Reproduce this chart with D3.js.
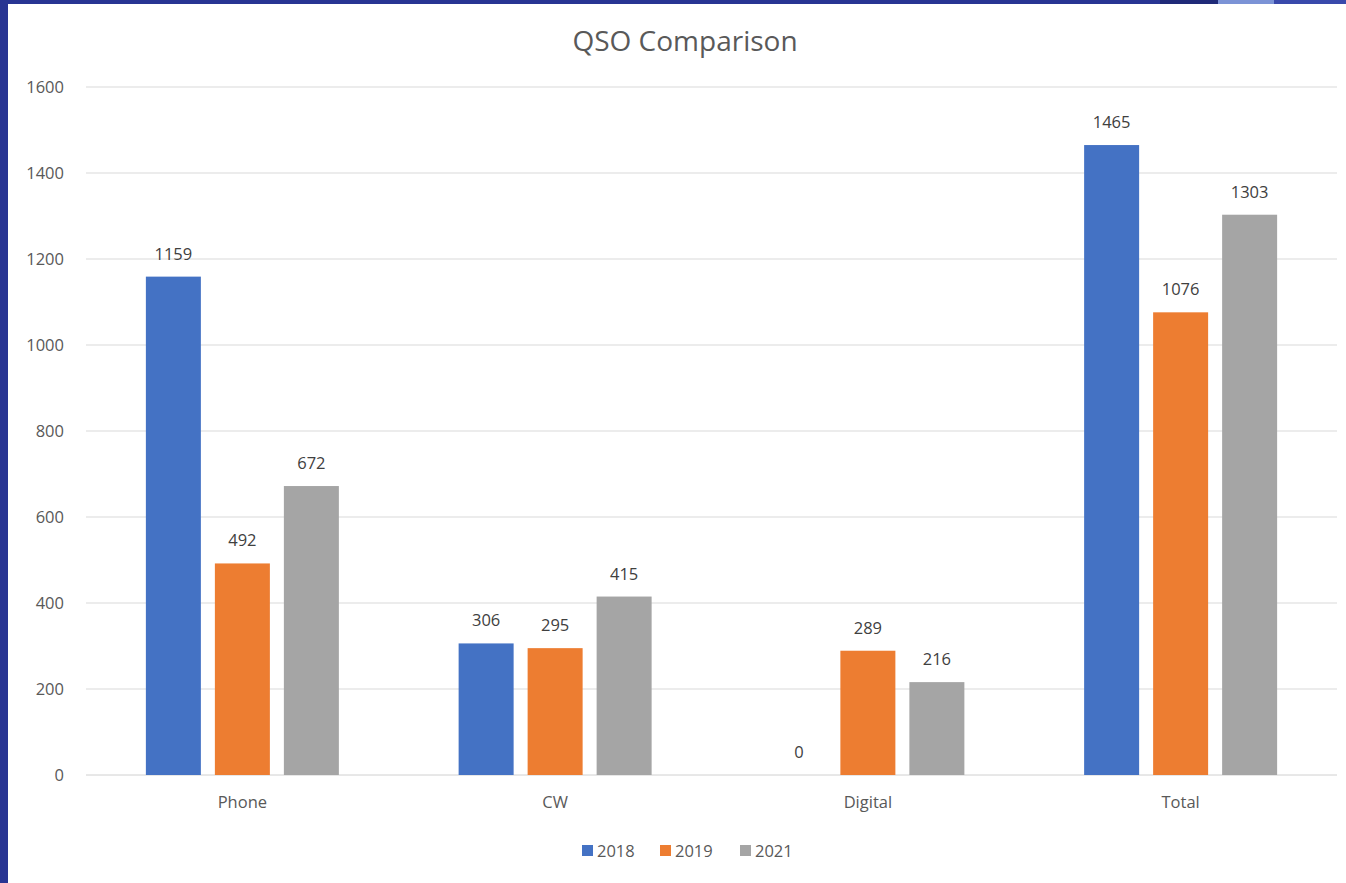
<!DOCTYPE html>
<html>
<head>
<meta charset="utf-8">
<script src="https://cdn.jsdelivr.net/npm/d3@7"></script>
<style>
  body { margin: 0; background: #fff; }
  text { font-family: "Open Sans", "Noto Sans", sans-serif; }
</style>
</head>
<body>
<script>
// Chart data
const categories = ["Phone", "CW", "Digital", "Total"];
const years = ["2018", "2019", "2021"];
const values2018 = [1159, 306, 0, 1465];
const values2019 = [492, 295, 289, 1076];
const values2021 = [672, 415, 216, 1303];
const yTicks = [0, 200, 400, 600, 800, 1000, 1200, 1400, 1600];
const colors = ["#4472c4", "#ed7d31", "#a5a5a5"];

const series = [values2018, values2019, values2021];

const W = 1346, H = 883;
const plot = {left: 86, right: 1337, top: 87, bottom: 775};
const fs = 16.5;

const svg = d3.select("body").append("svg")
    .attr("width", W)
    .attr("height", H);

// dark frame of the slide
svg.append("rect").attr("width", W).attr("height", H).attr("fill", "#283593");
svg.append("rect").attr("x", 8).attr("y", 4).attr("width", W - 8).attr("height", H - 4).attr("fill", "#fff");
svg.append("rect").attr("x", 1160).attr("y", 0).attr("width", 58).attr("height", 4).attr("fill", "#1f2a78");
svg.append("rect").attr("x", 1218).attr("y", 0).attr("width", 56).attr("height", 4).attr("fill", "#7b93d6");
svg.append("rect").attr("x", 1274).attr("y", 0).attr("width", 72).attr("height", 4).attr("fill", "#3949ab");

const x = d3.scaleBand()
    .domain(categories)
    .range([plot.left, plot.right]);

const y = d3.scaleLinear()
    .domain([0, 1600])
    .range([plot.bottom, plot.top]);

// gridlines
svg.append("g").selectAll("line")
  .data(yTicks)
  .enter().append("line")
    .attr("x1", plot.left).attr("x2", plot.right)
    .attr("y1", d => y(d)).attr("y2", d => y(d))
    .attr("stroke", d => d === 0 ? "#d0d0d0" : "#d9d9d9")
    .attr("stroke-width", 1);

// y tick labels
svg.append("g").selectAll("text")
  .data(yTicks)
  .enter().append("text")
    .attr("x", 64)
    .attr("y", d => y(d))
    .attr("dy", "0.35em")
    .attr("text-anchor", "end")
    .attr("font-size", fs)
    .attr("fill", "#595959")
    .text(d => d);

// bars inside each band
const barW = 55, gap = 14;
const groupW = barW * 3 + gap * 2;
const xi = d3.scaleOrdinal().domain([0, 1, 2]).range([0, barW + gap, 2 * (barW + gap)]);

const groups = svg.append("g").selectAll("g")
  .data(categories)
  .enter().append("g")
    .attr("transform", d => `translate(${x(d) + (x.bandwidth() - groupW) / 2},0)`);

groups.selectAll("rect")
  .data((d, i) => series.map((s, j) => ({j, v: s[i]})))
  .enter().append("rect")
    .attr("x", d => xi(d.j))
    .attr("y", d => y(d.v))
    .attr("width", barW)
    .attr("height", d => y(0) - y(d.v))
    .attr("fill", d => colors[d.j]);

groups.selectAll("text")
  .data((d, i) => series.map((s, j) => ({j, v: s[i]})))
  .enter().append("text")
    .attr("x", d => xi(d.j) + barW / 2)
    .attr("y", d => y(d.v) - 17)
    .attr("text-anchor", "middle")
    .attr("font-size", fs)
    .attr("fill", "#404040")
    .text(d => d.v);

// category labels
svg.append("g").selectAll("text")
  .data(categories)
  .enter().append("text")
    .attr("x", d => x(d) + x.bandwidth() / 2)
    .attr("y", 808)
    .attr("text-anchor", "middle")
    .attr("font-size", fs)
    .attr("fill", "#595959")
    .text(d => d);

// title
svg.append("text")
    .attr("x", 685).attr("y", 51)
    .attr("text-anchor", "middle")
    .attr("font-size", 28)
    .attr("fill", "#595959")
    .text("QSO Comparison");

// legend
const legendX = [582, 660, 740];
const legend = svg.append("g").selectAll("g")
  .data(years)
  .enter().append("g")
    .attr("transform", (d, i) => `translate(${legendX[i]},851)`);

legend.append("rect")
    .attr("x", 0).attr("y", -6)
    .attr("width", 11).attr("height", 11)
    .attr("fill", (d, i) => colors[i]);

legend.append("text")
    .attr("x", 15).attr("dy", "0.35em")
    .attr("font-size", fs)
    .attr("fill", "#595959")
    .text(d => d);
</script>
</body>
</html>
